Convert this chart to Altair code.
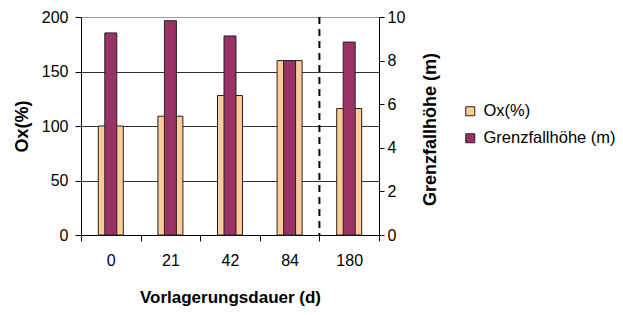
import altair as alt
import pandas as pd

categories = ["0", "21", "42", "84", "180"]
ox_values = [100, 109, 128, 160, 116]
grenz_values = [9.27, 9.83, 9.13, 8.0, 8.85]
series_names = ["Ox(%)", "Grenzfallhöhe (m)"]
series_colors = ["#FFCC99", "#993366"]
divider_after = ["84"]

df_ox = pd.DataFrame({"cat": categories, "val": ox_values, "series": series_names[0]})
df_gr = pd.DataFrame({"cat": categories, "val": grenz_values, "series": series_names[1]})
df_div = pd.DataFrame({"cat": divider_after})

FONT = "Liberation Sans"

x_enc = alt.X(
    "cat:N",
    sort=categories,
    scale=alt.Scale(paddingInner=0, paddingOuter=0),
    axis=alt.Axis(
        title="Vorlagerungsdauer (d)",
        labelAngle=0,
        tickBand="extent",
        tickSize=6,
        labelPadding=11,
        titlePadding=21,
        titleFontSize=17,
        grid=False,
    ),
)

color_enc = alt.Color(
    "series:N",
    scale=alt.Scale(domain=series_names, range=series_colors),
    legend=alt.Legend(
        title=None,
        orient="none",
        legendX=381,
        legendY=86,
        symbolType="square",
        symbolSize=81,
        symbolStrokeColor="#222",
        symbolStrokeWidth=1,
        labelFontSize=16.5,
        labelFont=FONT,
        labelColor="black",
        labelOffset=5,
        rowPadding=10,
        padding=0,
    ),
)

ox_bars = alt.Chart(df_ox).mark_bar(size=25, stroke="#222", strokeWidth=1).encode(
    x=x_enc,
    y=alt.Y(
        "val:Q",
        scale=alt.Scale(domain=[0, 200], nice=False),
        axis=alt.Axis(
            title="Ox(%)",
            values=[0, 50, 100, 150, 200],
            grid=True,
            gridColor={"condition": {"test": "datum.value === 200", "value": "#999999"}, "value": "#333333"},
            tickSize=6,
            labelPadding=7,
            titleFontSize=18,
            titleAngle=270,
            titleX=-59,
            titleY=109,
            titleAlign="center",
            titleBaseline="middle",
        ),
    ),
    color=color_enc,
)

gr_bars = alt.Chart(df_gr).mark_bar(size=12, stroke="#222", strokeWidth=1).encode(
    x=x_enc,
    y=alt.Y(
        "val:Q",
        scale=alt.Scale(domain=[0, 10], nice=False),
        axis=alt.Axis(
            title="Grenzfallhöhe (m)",
            orient="right",
            values=[0, 2, 4, 6, 8, 10],
            grid=False,
            tickSize=5,
            labelPadding=3,
            titleAngle=270,
            titleFontSize=18,
            titleX=51,
            titleY=112,
            titleAlign="center",
            titleBaseline="middle",
        ),
    ),
    color=color_enc,
)

divider = alt.Chart(df_div).mark_rule(color="black", strokeWidth=2, strokeDash=[7, 5]).encode(
    x=alt.X("cat:N", sort=categories, bandPosition=1),
    y=alt.value(0),
    y2=alt.value({"expr": "height"}),
)

chart = (
    alt.layer(ox_bars, gr_bars, divider)
    .resolve_scale(y="independent")
    .properties(
        width=298,
        height=218,
        autosize=alt.AutoSizeParams(type="none"),
        padding={"left": 73, "top": 9, "right": 236, "bottom": 72},
    )
    .configure_view(stroke=None)
    .configure_axis(
        labelFont=FONT,
        titleFont=FONT,
        labelFontSize=16,
        titleFontWeight="bold",
        labelColor="black",
        titleColor="black",
        domainColor="black",
        tickColor="black",
        domainWidth=1,
    )
)

chart.save("out.html", embed_options={"renderer": "svg", "actions": False})
